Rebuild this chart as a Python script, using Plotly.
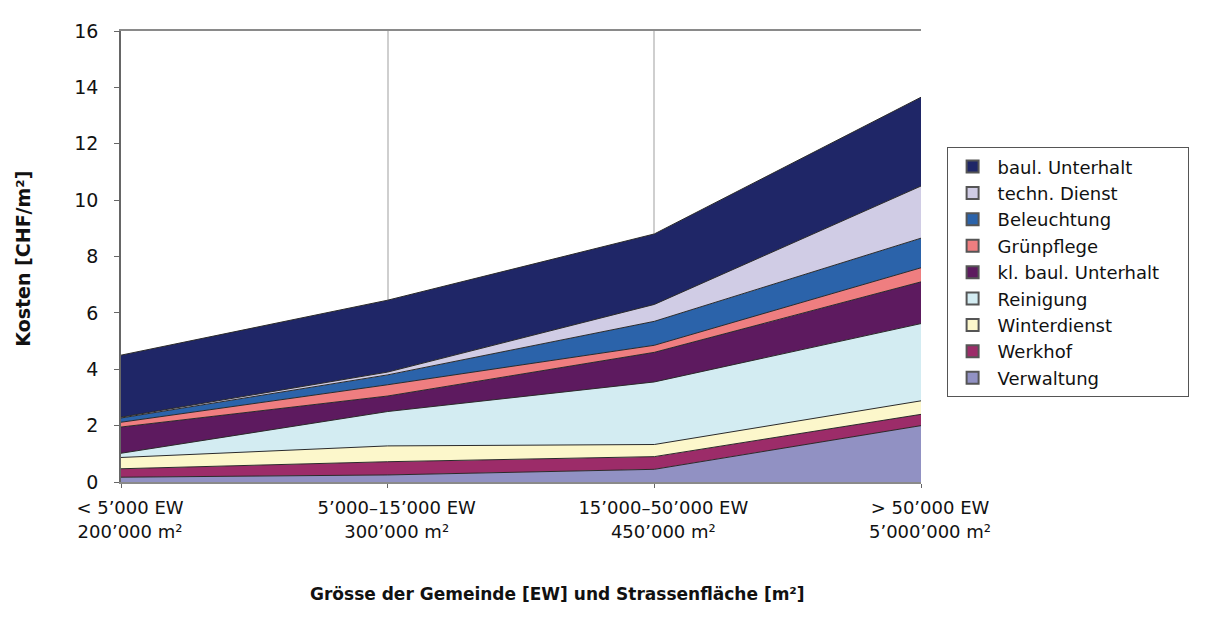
import plotly.graph_objects as go

categories = ["< 5’000 EW<br>200’000 m²", "5’000–15’000 EW<br>300’000 m²",
              "15’000–50’000 EW<br>450’000 m²", "> 50’000 EW<br>5’000’000 m²"]

# series values (bottom to top of the stack)
verwaltung = [0.17, 0.25, 0.45, 2.00]
werkhof = [0.30, 0.47, 0.45, 0.40]
winterdienst = [0.40, 0.56, 0.43, 0.48]
reinigung = [0.15, 1.22, 2.22, 2.74]
kl_baul_unterhalt = [0.93, 0.55, 1.05, 1.48]
gruenpflege = [0.17, 0.40, 0.25, 0.50]
beleuchtung = [0.15, 0.35, 0.85, 1.05]
techn_dienst = [0.03, 0.10, 0.60, 1.85]
baul_unterhalt = [2.20, 2.55, 2.50, 3.15]

series = [
    ("Verwaltung", verwaltung, "#9191c3"),
    ("Werkhof", werkhof, "#9c2c69"),
    ("Winterdienst", winterdienst, "#fcf7cb"),
    ("Reinigung", reinigung, "#d3ecf2"),
    ("kl. baul. Unterhalt", kl_baul_unterhalt, "#5d1a5f"),
    ("Grünpflege", gruenpflege, "#ef7e80"),
    ("Beleuchtung", beleuchtung, "#2b63aa"),
    ("techn. Dienst", techn_dienst, "#d0cce5"),
    ("baul. Unterhalt", baul_unterhalt, "#1f2667"),
]

FONT = "DejaVu Sans"
xs = list(range(len(categories)))

fig = go.Figure()
for name, vals, col in series:
    fig.add_trace(go.Scatter(
        x=xs, y=vals, name=name, stackgroup="one", mode="lines",
        line=dict(color="#2a2a2a", width=1), fillcolor=col, showlegend=False,
    ))

# legend entries (square swatches), top to bottom; trailing no-break spaces
# on the longest label give the legend box its right-hand padding
longest = max(len(n) for n, _, _ in series)
for name, vals, col in reversed(series):
    label = name + ("\u00a0" * 4 if len(name) == longest else "")
    fig.add_trace(go.Scatter(
        x=[None], y=[None], name=label, mode="markers",
        marker=dict(symbol="square", size=17, color=col, line=dict(color="#555", width=1.5)),
        showlegend=True,
    ))

fig.update_layout(
    width=1206, height=626,
    margin=dict(l=113, r=293, t=16, b=152),
    paper_bgcolor="white", plot_bgcolor="white",
    font=dict(family=FONT, size=18, color="#111"),
    showlegend=True,
    legend=dict(
        x=1.032, xanchor="left", y=0.742, yanchor="top",
        bordercolor="#555", borderwidth=1, bgcolor="white",
        font=dict(family=FONT, size=18, color="#111"),
        traceorder="normal", itemsizing="constant", tracegroupgap=0,
        itemwidth=40,
    ),
    xaxis=dict(
        range=[0, 3], tickmode="array", tickvals=xs, ticktext=categories,
        showgrid=True, gridcolor="#cfcfcf", gridwidth=1.5,
        showline=True, linecolor="#8a8a8a", linewidth=1.5, mirror=True,
        ticks="outside", ticklen=4, tickcolor="#666",
        zeroline=False, ticklabelshift=9, ticklabelstandoff=5,
        tickfont=dict(family=FONT, size=18, color="#111"),
    ),
    yaxis=dict(
        range=[0, 16], dtick=2, showgrid=False, zeroline=False,
        showline=True, linecolor="#666", linewidth=1.5,
        ticks="outside", ticklen=5, tickcolor="#666", ticklabelstandoff=12,
        tickfont=dict(family=FONT, size=19, color="#111"),
    ),
    annotations=[
        dict(text="<b>Kosten [CHF/m²]</b>", xref="paper", yref="paper",
             x=-0.1225, y=0.495, xanchor="center", yanchor="middle", textangle=-90,
             showarrow=False, font=dict(family=FONT, size=19, color="#111")),
        dict(text="<b>Grösse der Gemeinde [EW] und Strassenfläche [m²]</b>",
             xref="paper", yref="paper", x=0.545, y=-0.249,
             xanchor="center", yanchor="middle", showarrow=False,
             font=dict(family=FONT, size=17, color="#111")),
    ],
)

fig.write_html("out.html")
